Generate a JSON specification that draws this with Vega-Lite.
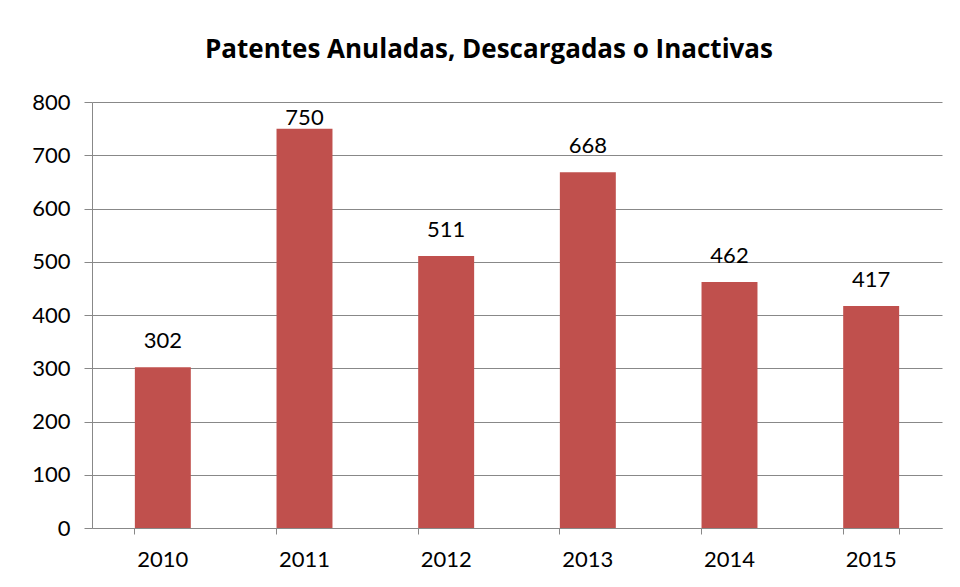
{
  "$schema": "https://vega.github.io/schema/vega-lite/v6.json",
  "width": 850,
  "height": 426,
  "autosize": {"type": "none"},
  "padding": {"left": 92, "top": 102, "right": 18, "bottom": 59},
  "background": "white",
  "config": {
    "font": "Lato",
    "view": {"stroke": null},
    "axis": {"labelFont": "Lato", "labelFontSize": 22, "labelColor": "#000000", "domainColor": "#888888", "tickColor": "#888888", "gridColor": "#888888", "title": null}
  },
  "title": {
    "text": "Patentes Anuladas, Descargadas o Inactivas",
    "font": "Open Sans",
    "fontSize": 26,
    "fontWeight": "bold",
    "color": "#000000",
    "anchor": "middle",
    "dx": -28,
    "baseline": "alphabetic",
    "offset": 7
  },
  "data": {
    "values": [
      {"year": "2010", "value": 302},
      {"year": "2011", "value": 750},
      {"year": "2012", "value": 511},
      {"year": "2013", "value": 668},
      {"year": "2014", "value": 462},
      {"year": "2015", "value": 417}
    ]
  },
  "resolve": {"axis": {"x": "independent"}},
  "layer": [
    {
      "mark": {"type": "bar", "color": "#C0504D"},
      "encoding": {
        "x": {
          "field": "year",
          "type": "nominal",
          "scale": {"paddingInner": 0.605, "paddingOuter": 0.3025},
          "axis": {"labelAngle": 0, "bandPosition": 0, "tickSize": 6, "labelPadding": 15, "grid": false, "orient": "bottom"}
        },
        "y": {
          "field": "value",
          "type": "quantitative",
          "scale": {"domain": [0, 800], "nice": false},
          "axis": {"values": [0, 100, 200, 300, 400, 500, 600, 700, 800], "tickSize": 8, "labelPadding": 14, "grid": true, "domain": true}
        }
      }
    },
    {
      "mark": {"type": "bar", "opacity": 0},
      "encoding": {
        "x": {
          "field": "year",
          "type": "nominal",
          "axis": {"bandPosition": 1, "tickSize": 6, "labels": false, "domain": false, "grid": false, "orient": "bottom", "values": ["2015"]}
        },
        "y": {"field": "value", "type": "quantitative"}
      }
    },
    {
      "transform": [{"filter": "datum.value < 700"}],
      "mark": {"type": "text", "baseline": "alphabetic", "dy": -19, "fontSize": 22, "font": "Lato", "color": "#000000"},
      "encoding": {
        "x": {"field": "year", "type": "nominal", "axis": null},
        "y": {"field": "value", "type": "quantitative"},
        "text": {"field": "value", "type": "quantitative"}
      }
    },
    {
      "transform": [{"filter": "datum.value >= 700"}],
      "mark": {"type": "text", "baseline": "alphabetic", "dy": -4, "fontSize": 22, "font": "Lato", "color": "#000000"},
      "encoding": {
        "x": {"field": "year", "type": "nominal", "axis": null},
        "y": {"field": "value", "type": "quantitative"},
        "text": {"field": "value", "type": "quantitative"}
      }
    }
  ]
}
